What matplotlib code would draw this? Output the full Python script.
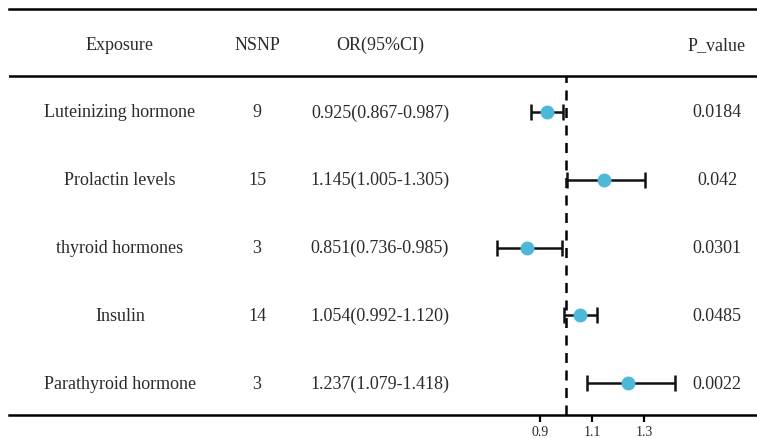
import matplotlib.pyplot as plt

exposures = ["Luteinizing hormone", "Prolactin levels", "thyroid hormones",
             "Insulin", "Parathyroid hormone"]
nsnp = [9, 15, 3, 14, 3]
or_val = [0.925, 1.145, 0.851, 1.054, 1.237]
ci_low = [0.867, 1.005, 0.736, 0.992, 1.079]
ci_high = [0.987, 1.305, 0.985, 1.120, 1.418]
p_values = ["0.0184", "0.042", "0.0301", "0.0485", "0.0022"]
ticks = [0.9, 1.1, 1.3]

plt.rcParams["font.family"] = ["Liberation Serif", "DejaVu Serif"]
txt_color = "#2b2b2b"

fig = plt.figure(figsize=(7.57, 4.39), dpi=100)
# axes spans the whole table; x in OR units
ax = fig.add_axes([9 / 757, 23 / 439, 748 / 757, 406 / 439])
ax.set_xlim(1.0 - 557 / 260, 1.0 + 191 / 260)
ax.set_ylim(0.528, 6.52)

n = len(exposures)
ys = [n - i for i in range(n)]

# forest plot
err = [[o - l for o, l in zip(or_val, ci_low)], [h - o for o, h in zip(or_val, ci_high)]]
ax.errorbar(or_val, ys, xerr=err, fmt="o", color="#111111", ecolor="#111111",
            elinewidth=1.8, capsize=6, capthick=1.8, markersize=9,
            markerfacecolor="#4DB8D8", markeredgecolor="#4DB8D8", zorder=3)
ax.plot([1.0, 1.0], [0.528, 5.53], color="black", linestyle=(0, (4, 3)), linewidth=1.8, zorder=2)

# table lines
ax.axhline(5.53, color="black", linewidth=1.8)
for s in ["left", "right"]:
    ax.spines[s].set_visible(False)
ax.spines["top"].set_linewidth(1.8)
ax.spines["bottom"].set_linewidth(1.8)

ax.set_yticks([])
ax.set_xticks(ticks)
ax.set_xticklabels(["0.9", "1.1", "1.3"])
ax.tick_params(axis="x", length=5, width=1.6, labelsize=10, pad=2, labelcolor=txt_color)

# table text
fs = 13
col_x = [120, 257, 380, 717]
col_x = [(c - 9) / 748 for c in col_x]
tr = ax.get_yaxis_transform()
headers = ["Exposure", "NSNP", "OR(95%CI)", "P_value"]
for cx, h in zip(col_x, headers):
    ax.text(cx, 6.0, h, transform=tr, ha="center", va="center", fontsize=fs, color=txt_color)

for i in range(n):
    y = ys[i]
    orci = f"{or_val[i]:.3f}({ci_low[i]:.3f}-{ci_high[i]:.3f})"
    vals = [exposures[i], str(nsnp[i]), orci, p_values[i]]
    for cx, v in zip(col_x, vals):
        ax.text(cx, y, v, transform=tr, ha="center", va="center", fontsize=fs, color=txt_color)

fig.savefig("out.png", dpi=100)
